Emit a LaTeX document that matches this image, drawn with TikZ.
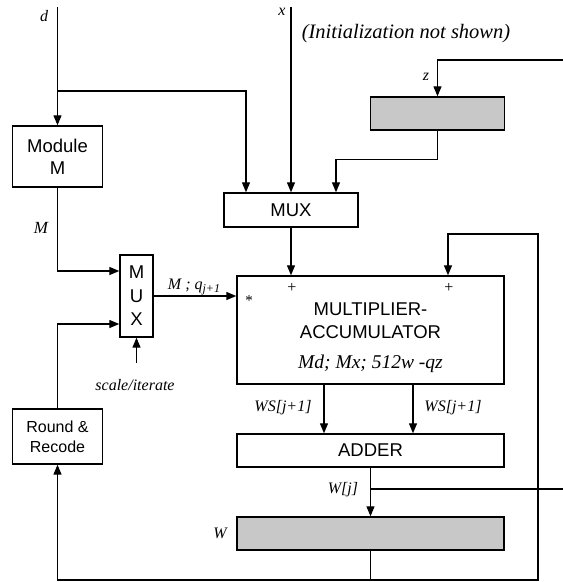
\documentclass[tikz,border=0pt]{standalone}
\usepackage{fontspec}
\setmainfont{Liberation Serif}
\setsansfont{Liberation Sans}
\usetikzlibrary{arrows.meta}
\definecolor{regfill}{RGB}{200,200,200}
\begin{document}
\begin{tikzpicture}[x=1pt,y=-1pt,
  box/.style={draw, line width=1.4pt, inner sep=0pt, align=center,
    font=\sffamily\fontsize{18.5}{22}\selectfont},
  reg/.style={box, fill=regfill},
  lbl/.style={font=\itshape\fontsize{16}{18}\selectfont, inner sep=0pt},
  mactxt/.style={font=\sffamily\fontsize{18.5}{22}\selectfont, inner sep=0pt},
  wire/.style={line width=1.3pt},
  arr/.style={wire, -{Triangle[length=10pt,width=8pt]}}
]
\useasboundingbox (0,0) rectangle (563,582);

% boxes
\node[box, minimum width=90pt, minimum height=61pt] (modM) at (57.5,156.5) {Module\\M};
\node[box, minimum width=134pt, minimum height=34pt] (muxT) at (291,210) {MUX};
\node[reg, minimum width=134pt, minimum height=33pt] (gray1) at (437.5,113.5) {};
\node[box, minimum width=33pt, minimum height=82pt, font=\sffamily\fontsize{18.5}{23.5}\selectfont] (muxS) at (136.5,296) {M\\U\\X};
\node[box, minimum width=267pt, minimum height=108pt] (mac) at (370.5,330) {};
\node[box, minimum width=90pt, minimum height=55pt, font=\sffamily\fontsize{16}{20}\selectfont] (rr) at (57.5,436.5) {Round \&\\Recode};
\node[box, minimum width=267pt, minimum height=33pt] (adder) at (370.5,450.5) {ADDER};
\node[reg, minimum width=267pt, minimum height=33pt] (wreg) at (370.5,533.5) {};

% text inside the multiplier-accumulator
\node[mactxt] (t1) at (370.5,309) {MULTIPLIER-};
\node[mactxt] (t2) at (370.5,332) {ACCUMULATOR};
\node[font=\itshape\fontsize{19.5}{22}\selectfont, inner sep=0pt] (t3) at (370.5,364) {Md; Mx; 512w -qz};
\node[font=\fontsize{16}{18}\selectfont, inner sep=0pt] (p1) at (292,288) {+};
\node[font=\fontsize{16}{18}\selectfont, inner sep=0pt] (p2) at (449,288) {+};
\node[font=\fontsize{15}{18}\selectfont, inner sep=0pt] (st) at (249,301) {*};

% labels
\node[lbl] (ld) at (44,16) {d};
\node[lbl] (lx) at (282,12) {x};
\node[font=\itshape\fontsize{20.5}{22}\selectfont, inner sep=0pt] (linit) at (406,34) {(Initialization not shown)};
\node[lbl] (lz) at (426,77) {z};
\node[lbl, font=\itshape\fontsize{17}{18}\selectfont] (lM) at (41,228) {M};
\node[lbl] (lW) at (220,533) {W};
\node[lbl] (lWj) at (343,490) {W[j]};
\node[lbl] (lws1) at (283,408) {WS[j+1]};
\node[lbl] (lws2) at (453,408) {WS[j+1]};
\node[lbl] (lsi) at (135,385) {scale/iterate};
\node[lbl, anchor=base] (lmq) at (194,289) {M ; q\raisebox{-0.45ex}{\fontsize{12}{12}\selectfont j+1}};

% free-end coordinates
\coordinate (dtop) at (57.5,7);
\coordinate (dbr) at (57.5,91);
\coordinate (xtop) at (291,7);
\coordinate (zin) at (563,60);
\coordinate (sib) at (136.5,363);
\coordinate (wj) at (370.5,489);
\coordinate (wout) at (563,489);
\coordinate (bl) at (370.5,580);
\coordinate (fbc) at (538,580);
\coordinate (fbtop) at (538,234);

% connectors
\draw[arr] (dtop) -- (modM.north);
\draw[arr] (dbr) -| ([xshift=-45pt]muxT.north);
\draw[arr] (xtop) -- (muxT.north);
\draw[arr] (zin) -| (gray1.north);
\draw[arr] (gray1.south) -- ++(0,29) -| ([xshift=45pt]muxT.north);
\draw[arr] (muxT.south) -- (muxT.south |- mac.north);
\draw[arr] (modM.south) |- ([yshift=25pt]muxS.west);
\draw[arr] (rr.north) |- ([yshift=-28pt]muxS.west);
\draw[arr] (sib) -- (muxS.south);
\draw[arr] (muxS.east) -- (muxS.east -| mac.west);
\draw[arr] ([xshift=-46.5pt]mac.south) -- ([xshift=-46.5pt]adder.north);
\draw[arr] ([xshift=42.5pt]mac.south) -- ([xshift=42.5pt]adder.north);
\draw[arr] (adder.south) -- (wreg.north);
\draw[wire] (wj) -- (wout);
\draw[arr] (wreg.south) -- (bl) -| (rr.south);
\draw[arr] (bl) -- (fbc) -- (fbtop) -| ([xshift=77.5pt]mac.north);
\end{tikzpicture}
\end{document}
